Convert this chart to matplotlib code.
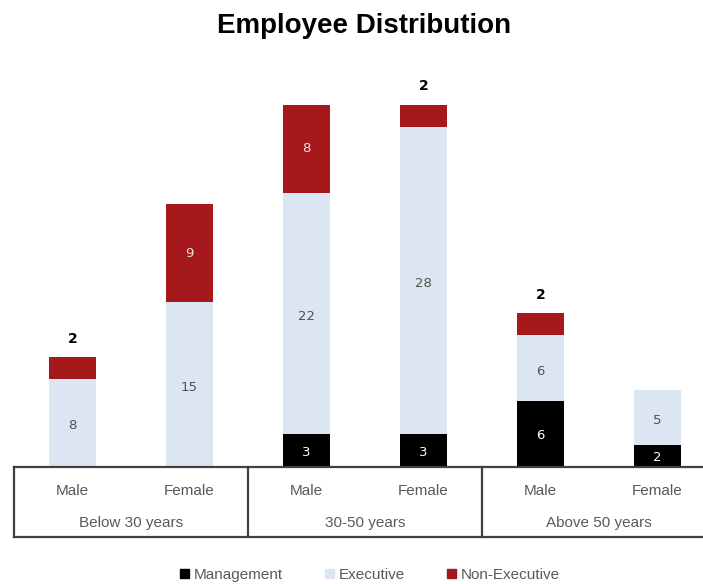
import matplotlib
matplotlib.use("Agg")
import matplotlib.pyplot as plt
import matplotlib.transforms as mtransforms
from matplotlib.patches import Patch

plt.rcParams['font.family'] = ['Liberation Sans', 'DejaVu Sans']

groups = ["Below 30 years", "30-50 years", "Above 50 years"]
genders = ["Male", "Female"]
management = [0, 0, 3, 3, 6, 2]
executive = [8, 15, 22, 28, 6, 5]
non_executive = [2, 9, 8, 2, 2, 0]

colors = {"Management": "#000000", "Executive": "#dce6f2", "Non-Executive": "#a5181c"}

W, H = 703, 584
fig = plt.figure(figsize=(W / 100, H / 100), dpi=100)
base_px = 467
unit_px = 10.97
ymax = 36
ax = fig.add_axes([14 / W, (H - base_px) / H, 702 / W, ymax * unit_px / H])
ax.set_xlim(-0.5, 5.5)
ax.set_ylim(0, ymax)
ax.axis('off')

x = list(range(6))
bw = 0.41
ax.bar(x, management, bw, color=colors["Management"], label="Management")
ax.bar(x, executive, bw, bottom=management, color=colors["Executive"], label="Executive")
bottoms3 = [m + e for m, e in zip(management, executive)]
ax.bar(x, non_executive, bw, bottom=bottoms3, color=colors["Non-Executive"], label="Non-Executive")

lab_kw = dict(ha='center', va='center', fontsize=9.5, family='DejaVu Sans')
for i in x:
    if management[i] > 0:
        ax.text(i, management[i] / 2 - 0.15, str(management[i]), color='white', **lab_kw)
    if executive[i] > 0:
        ax.text(i, management[i] + executive[i] / 2 - 0.25, str(executive[i]),
                color='#505050', **lab_kw)
    v = non_executive[i]
    if v > 2:
        ax.text(i, bottoms3[i] + v / 2, str(v), color='#f0e0e0', **lab_kw)
    elif v > 0:
        ax.text(i, bottoms3[i] + v + 1.7, str(v), ha='center', va='center',
                color='black', fontsize=10, fontweight='bold', family='DejaVu Sans')

# category table below the axis
tr = mtransforms.blended_transform_factory(ax.transData, fig.transFigure)
def fy(px):
    return (H - px) / H
lc = '#404040'
lw = 1.6
ax.plot([-0.5, 5.5], [fy(467), fy(467)], transform=tr, color=lc, lw=lw, clip_on=False)
ax.plot([-0.5, 5.5], [fy(537), fy(537)], transform=tr, color=lc, lw=lw, clip_on=False)
for xv in [-0.5, 1.5, 3.5, 5.5]:
    ax.plot([xv, xv], [fy(467), fy(537)], transform=tr, color=lc, lw=lw, clip_on=False)
for i in x:
    ax.text(i, fy(491), genders[i % 2], transform=tr, ha='center', va='center',
            color='#595959', fontsize=11)
for g, name in enumerate(groups):
    ax.text(2 * g + 0.5, fy(523), name, transform=tr, ha='center', va='center',
            color='#595959', fontsize=11)

fig.text(364 / W, fy(26), "Employee Distribution", ha='center', va='center',
         fontsize=20, fontweight='bold', color='black')

handles = [Patch(color=colors[k], label=k) for k in ["Management", "Executive", "Non-Executive"]]
fig.legend(handles=handles, loc='center', bbox_to_anchor=(370 / W, fy(575)), ncol=3,
           frameon=False, fontsize=11, handlelength=0.55, handleheight=0.55,
           handletextpad=0.3, columnspacing=2.8, labelcolor='#595959')

fig.savefig("out.png", dpi=100)
